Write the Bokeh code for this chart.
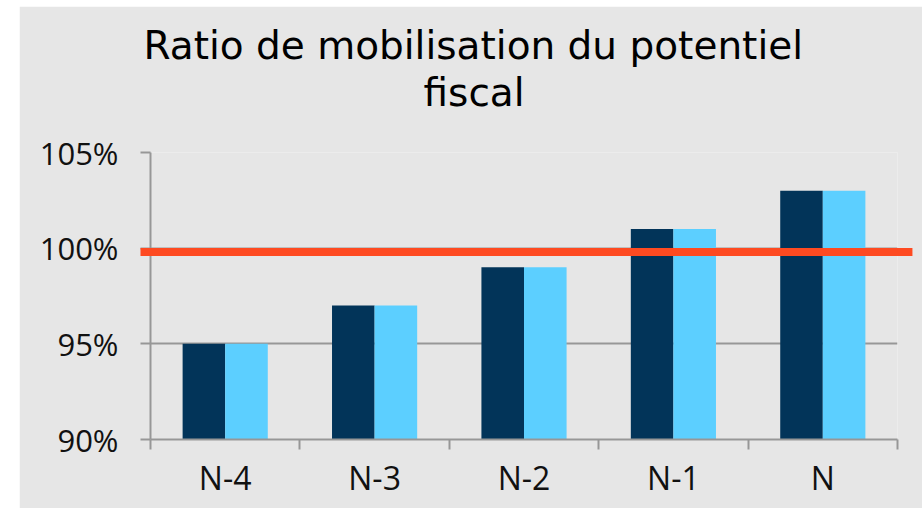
from bokeh.plotting import figure
from bokeh.models import (Range1d, FixedTicker, CustomJSTickFormatter, PrintfTickFormatter,
                          Title, Spacer, ColumnDataSource)
from bokeh.layouts import row, column
from bokeh.transform import dodge
from bokeh.embed import file_html
from bokeh.resources import INLINE
import numpy as np

# ---- data ----
categories = ["N-4", "N-3", "N-2", "N-1", "N"]
serie_1 = [95, 97, 99, 101, 103]
serie_2 = [95, 97, 99, 101, 103]
seuil = 99.8
y_ticks = [90, 95, 100, 105]
title_lines = ["Ratio de mobilisation du potentiel", "fiscal"]

FONT = "Open Sans"
TFONT = "DejaVu Sans"
BG = "#e6e6e6"
GRID = "#979797"

pos = np.arange(len(categories)) + 0.5
src = ColumnDataSource(dict(x=pos, s1=serie_1, s2=serie_2))

p = figure(width=903, height=502, output_backend="svg", toolbar_location=None,
           x_range=Range1d(0, len(categories)), y_range=Range1d(90, 105),
           min_border_left=131, min_border_right=25, min_border_top=146,
           min_border_bottom=69, background_fill_color=BG, border_fill_color=BG,
           outline_line_color=None)

p.vbar(x=dodge("x", -0.1425, range=p.x_range), top="s1", bottom=90, width=0.285,
       source=src, fill_color="#023459", line_color=None)
p.vbar(x=dodge("x", 0.1425, range=p.x_range), top="s2", bottom=90, width=0.285,
       source=src, fill_color="#5ccfff", line_color=None)

p.segment(x0=[-0.067], x1=[5.1], y0=[seuil], y1=[seuil], line_color="#fe4a21",
          line_width=8, level="overlay")

# y axis
yax = p.yaxis[0]
yax.ticker = FixedTicker(ticks=y_ticks)
yax.formatter = PrintfTickFormatter(format="%d%%")
yax.axis_line_color = GRID
yax.axis_line_width = 2
yax.major_tick_line_color = GRID
yax.major_tick_line_width = 2
yax.major_tick_out = 10
yax.major_tick_in = 0
yax.minor_tick_line_color = None
yax.major_label_text_font = FONT
yax.major_label_text_font_size = "31px"
yax.major_label_text_color = "#111111"
yax.major_label_standoff = 22

# x axis
xax = p.xaxis[0]
xax.ticker = FixedTicker(ticks=list(pos), minor_ticks=list(range(len(categories) + 1)))
xax.formatter = CustomJSTickFormatter(args=dict(labels=categories),
                                      code="return labels[Math.floor(tick)];")
xax.axis_line_color = GRID
xax.axis_line_width = 2
xax.major_tick_line_color = None
xax.major_tick_out = 0
xax.major_tick_in = 0
xax.minor_tick_line_color = GRID
xax.minor_tick_line_width = 2
xax.minor_tick_out = 10
xax.minor_tick_in = 0
xax.major_label_text_font = FONT
xax.major_label_text_font_size = "32px"
xax.major_label_text_color = "#111111"
xax.major_label_standoff = 6

p.xgrid.grid_line_color = None
p.ygrid.grid_line_color = GRID
p.ygrid.grid_line_width = 2

# blank gap between the title and the plot area (closest panel to the frame)
p.add_layout(Title(text=" ", text_font=TFONT, text_font_size="31px", standoff=0), "above")
offsets = [-7, 273]
for t, off in reversed(list(zip(title_lines, offsets))):
    p.add_layout(Title(text=t, align="left", offset=off, text_font=TFONT,
                       text_font_size="39px", text_font_style="normal",
                       text_color="#000000", standoff=0), "above")

layout = column(Spacer(width=10, height=6), row(Spacer(width=19, height=502), p))
open("out.html", "w").write(file_html(layout, INLINE))
